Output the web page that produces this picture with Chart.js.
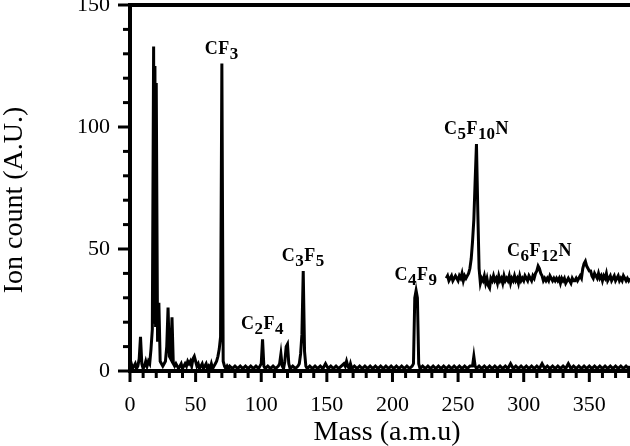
<!DOCTYPE html>
<html>
<head>
<meta charset="utf-8">
<script src="https://cdn.jsdelivr.net/npm/chart.js@4"></script>
<style>
  html, body { margin: 0; padding: 0; background: #fff; overflow: hidden; }
  canvas { display: block; }
</style>
</head>
<body>
<canvas id="myChart" width="630" height="446"></canvas>
<script>
// main spectrum (mass in a.m.u, ion count)
const baseMass = [
  0, 1, 2, 3, 4, 5, 6, 7, 8, 9,
  10, 11, 12, 13, 14, 15, 16, 17, 18, 18.5,
  19, 19.5, 20, 21, 22, 23, 24, 25, 26, 27,
  28, 29, 30, 31, 32, 33, 34, 35, 36, 37,
  38, 39, 40, 41, 42, 43, 44, 45, 46, 47,
  48, 49, 50, 51, 52, 53, 54, 55, 56, 57,
  58, 59, 60, 61, 62, 63, 64, 65, 66, 67,
  68, 69, 70, 71, 72, 73, 74, 75,
  76, 78, 80, 82, 84, 86, 88, 90, 92, 94,
  96, 98, 99, 100, 101, 102, 103, 105, 107, 109,
  111, 113, 114, 115, 116, 117, 118, 119, 120, 121,
  122, 124, 126, 128, 129, 130, 131, 132, 133, 134,
  135, 137, 139, 141, 143, 145, 147, 149, 150, 151,
  153, 155, 157, 159, 161, 163, 164, 165, 166, 167,
  168, 169, 171, 173, 175, 177, 179, 181, 183, 185,
  187, 189, 191, 193, 195, 197, 199, 201, 203, 205,
  207, 209, 211, 213, 215, 216, 217, 218, 219, 220,
  221, 223, 225, 227, 229, 231, 233, 235, 237, 239,
  241, 243, 245, 247, 249, 251, 253, 255, 257, 259,
  261, 262, 263, 264, 266, 268, 270, 272, 274, 276,
  278, 280, 282, 284, 286, 288, 290, 292, 294, 296,
  298, 300, 302, 304, 306, 308, 310, 312, 314, 316,
  318, 320, 322, 324, 326, 328, 330, 332, 334, 336,
  338, 340, 342, 344, 346, 348, 350, 352, 354, 356,
  358, 360, 362, 364, 366, 368, 370, 372, 374, 376,
  378, 380, 381
];
const baseCount = [
  2, 3, 1, 2, 3, 1, 2, 5, 14, 3,
  1, 2, 4, 2, 4, 3, 9, 17, 133, 20,
  125, 18, 118, 12, 28, 4, 3, 2, 3, 4,
  10, 26, 6, 5, 22, 3, 2, 3, 2, 1,
  2, 3, 1, 2, 3, 2, 4, 3, 4, 2,
  5, 6, 4, 2, 3, 1, 2, 3, 1, 2,
  3, 1, 2, 1, 3, 1, 2, 3, 4, 6,
  9, 14, 126, 4, 2, 1, 2, 1,
  2, 1, 2, 1, 2, 1, 2, 1, 2, 1,
  2, 1, 2, 3, 13, 2, 1, 2, 1, 2,
  1, 2, 3, 7, 2, 1, 4, 10, 11, 3,
  1, 2, 1, 2, 3, 7, 15, 41, 8, 2,
  1, 2, 1, 2, 1, 2, 1, 3, 2, 1,
  2, 1, 2, 1, 2, 3, 2, 4, 2, 1,
  3, 1, 2, 1, 2, 1, 2, 1, 2, 1,
  2, 1, 2, 1, 2, 1, 2, 1, 2, 1,
  2, 1, 2, 1, 2, 3, 30, 33, 30, 3,
  1, 2, 1, 2, 1, 2, 1, 2, 1, 2,
  1, 2, 1, 2, 1, 2, 1, 2, 1, 2,
  2, 6, 2, 1, 2, 1, 2, 1, 2, 1,
  2, 1, 2, 1, 2, 1, 3, 1, 2, 1,
  2, 1, 2, 1, 2, 1, 2, 1, 3, 1,
  2, 1, 2, 1, 2, 1, 2, 1, 3, 1,
  2, 1, 2, 1, 2, 1, 2, 1, 2, 1,
  2, 1, 2, 1, 2, 1, 2, 1, 2, 1,
  2, 1, 2
];

// magnified high-mass part, drawn with an offset
const insetMass = [
  241, 242, 243, 244, 245, 246, 247, 248, 249, 250,
  251, 252, 253, 254, 255, 256, 257, 258, 259, 260,
  261, 262, 263, 264, 265, 266, 267, 268, 269, 270,
  271, 272, 273, 274, 275, 276, 277, 278, 279, 280,
  281, 282, 283, 284, 285, 286, 287, 288, 289, 290,
  291, 292, 293, 294, 295, 296, 297, 298, 299, 300,
  301, 302, 303, 304, 305, 306, 307, 308, 309, 310,
  311, 312, 313, 314, 315, 316, 317, 318, 319, 320,
  321, 322, 323, 324, 325, 326, 327, 328, 329, 330,
  331, 332, 333, 334, 335, 336, 337, 338, 339, 340,
  341, 342, 343, 344, 345, 346, 347, 348, 349, 350,
  351, 352, 353, 354, 355, 356, 357, 358, 359, 360,
  361, 362, 363, 364, 365, 366, 367, 368, 369, 370,
  371, 372, 373, 374, 375, 376, 377, 378, 379, 380,
  381
];
const insetCount = [
  38, 39, 37, 38, 39, 37, 38, 39, 38, 37,
  39, 38, 40, 37, 39, 38, 39, 40, 42, 46,
  53, 62, 78, 93, 66, 42, 36, 38, 37, 39,
  36, 38, 35, 34, 38, 37, 39, 37, 38, 36,
  39, 37, 38, 36, 39, 37, 38, 37, 39, 36,
  38, 37, 39, 37, 38, 36, 39, 37, 38, 37,
  39, 38, 37, 39, 38, 37, 39, 38, 40, 41,
  43, 42, 40, 39, 37, 38, 37, 38, 37, 39,
  38, 37, 38, 37, 38, 37, 38, 36, 38, 37,
  38, 36, 37, 38, 37, 36, 38, 37, 37, 38,
  37, 38, 39, 38, 42, 44, 45, 43, 42, 41,
  41, 39, 38, 40, 39, 38, 40, 38, 39, 37,
  39, 38, 40, 37, 38, 39, 37, 38, 39, 37,
  38, 39, 37, 38, 37, 39, 38, 37, 38, 37,
  38
];

// peak labels ("_" marks subscript digits)
const peakNames = ["CF_3", "C_2F_4", "C_3F_5", "C_4F_9", "C_5F_10N", "C_6F_12N"];
const peakMass = [70, 101, 132, 218, 264, 312];
const peakTop = [126, 13, 41, 33, 93, 43];

const xTickLabels = [0, 50, 100, 150, 200, 250, 300, 350];
const yTickLabels = [0, 50, 100, 150];

const SERIF = "'Liberation Serif', 'Times New Roman', serif";

function toPoints(xs, ys) {
  let pts = [];
  for (let i = 0; i < xs.length; i++) {
    pts.push({ x: xs[i], y: ys[i] });
  }
  return pts;
}

function splitFormula(text) {
  let parts = [];
  let i = 0;
  while (i < text.length) {
    if (text[i] == "_") {
      let j = i + 1;
      while (j < text.length && text[j] >= "0" && text[j] <= "9") j++;
      parts.push({ t: text.slice(i + 1, j), sub: true });
      i = j;
    } else {
      parts.push({ t: text[i], sub: false });
      i++;
    }
  }
  return parts;
}

function drawFormula(ctx, text, cx, baseY) {
  const big = "bold 18px " + SERIF;
  const small = "bold 17px " + SERIF;
  let parts = splitFormula(text);
  let total = 0;
  for (let p of parts) {
    ctx.font = p.sub ? small : big;
    p.w = ctx.measureText(p.t).width;
    total += p.w + 0.5;
  }
  let x = cx - total / 2;
  ctx.textAlign = "left";
  ctx.textBaseline = "alphabetic";
  for (let p of parts) {
    ctx.font = p.sub ? small : big;
    ctx.fillText(p.t, x, p.sub ? baseY + 5 : baseY);
    x += p.w + 0.5;
  }
}

const frame = {
  id: "frame",
  afterDraw(chart) {
    const ctx = chart.ctx;
    const a = chart.chartArea;
    const xs = chart.scales.x;
    const ys = chart.scales.y;
    ctx.save();
    ctx.strokeStyle = "#000";
    ctx.fillStyle = "#000";

    // top frame line
    ctx.lineWidth = 4;
    ctx.beginPath();
    ctx.moveTo(a.left - 2, a.top);
    ctx.lineTo(a.right, a.top);
    ctx.stroke();

    // tick marks, long at labelled values
    ctx.lineWidth = 3;
    for (let v = 0; v <= 150; v += 10) {
      let py = ys.getPixelForValue(v);
      let len = yTickLabels.includes(v) ? 12 : 7;
      ctx.beginPath();
      ctx.moveTo(a.left, py);
      ctx.lineTo(a.left - len, py);
      ctx.stroke();
    }
    for (let v = 0; v <= 380; v += 10) {
      let px = xs.getPixelForValue(v);
      let len = v % 50 == 0 ? 11 : 7;
      ctx.beginPath();
      ctx.moveTo(px, a.bottom);
      ctx.lineTo(px, a.bottom + len);
      ctx.stroke();
    }

    // peak labels
    for (let i = 0; i < peakNames.length; i++) {
      let px = xs.getPixelForValue(peakMass[i]);
      let py = ys.getPixelForValue(peakTop[i]);
      drawFormula(ctx, peakNames[i], px, py - 10);
    }

    // axis titles
    ctx.font = "28px " + SERIF;
    ctx.textAlign = "center";
    ctx.textBaseline = "alphabetic";
    ctx.fillText("Mass (a.m.u)", a.left + 257, 440);
    ctx.translate(22, (a.top + a.bottom) / 2 + 12);
    ctx.rotate(-Math.PI / 2);
    ctx.fillText("Ion count (A.U.)", 0, 0);
    ctx.restore();
  }
};

new Chart(document.getElementById("myChart"), {
  type: "line",
  data: {
    datasets: [
      {
        label: "spectrum",
        data: toPoints(baseMass, baseCount),
        borderColor: "#000",
        borderWidth: 3,
        pointRadius: 0,
        tension: 0,
      },
      {
        label: "magnified",
        data: toPoints(insetMass, insetCount),
        borderColor: "#000",
        borderWidth: 3,
        pointRadius: 0,
        tension: 0,
      },
    ],
  },
  options: {
    responsive: false,
    animation: false,
    layout: { padding: { top: 5, left: 0, right: 0, bottom: 0 } },
    plugins: {
      legend: { display: false },
      tooltip: { enabled: false },
    },
    scales: {
      x: {
        type: "linear",
        min: 0,
        max: 381,
        border: { color: "#000", width: 4 },
        grid: { drawOnChartArea: false, tickLength: 10, tickColor: "rgba(0,0,0,0)" },
        ticks: {
          stepSize: 10,
          autoSkip: false,
          maxRotation: 0,
          includeBounds: false,
          padding: 11,
          color: "#000",
          font: { family: SERIF, size: 22 },
          callback: (v) => (xTickLabels.includes(v) ? v : ""),
        },
        afterFit(s) {
          s.height = 75;
          s.paddingLeft = 0;
          s.paddingRight = 0;
        },
      },
      y: {
        min: 0,
        max: 150,
        border: { color: "#000", width: 4 },
        grid: { drawOnChartArea: false, tickLength: 10, tickColor: "rgba(0,0,0,0)" },
        ticks: {
          stepSize: 10,
          autoSkip: false,
          padding: 10,
          color: "#000",
          font: { family: SERIF, size: 22 },
          callback: (v) => (yTickLabels.includes(v) ? v : ""),
        },
        afterFit(s) {
          s.width = 130;
          s.paddingTop = 0;
          s.paddingBottom = 0;
        },
      },
    },
  },
  plugins: [frame],
});
</script>
</body>
</html>
